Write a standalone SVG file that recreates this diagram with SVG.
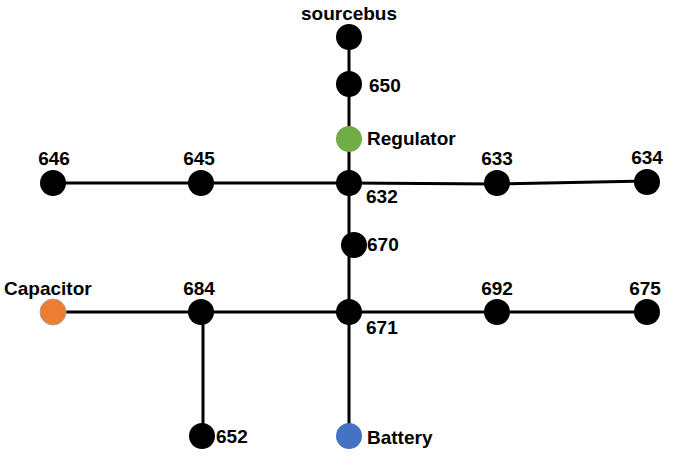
<svg xmlns="http://www.w3.org/2000/svg" width="676" height="458" viewBox="0 0 676 458">
<style>
.bus{fill:#000}
.lbl{font-family:"Liberation Sans",Arial,sans-serif;font-weight:bold;font-size:19px;fill:#000}
.mid{text-anchor:middle}
.wire{stroke:#000;stroke-width:3;fill:none}
</style>
<rect width="676" height="458" fill="#fff"/>
<g id="connectors">
<line class="wire" x1="349" y1="37" x2="349" y2="139"/>
<line class="wire" x1="349" y1="139" x2="349" y2="436"/>
<line class="wire" x1="53" y1="183" x2="349" y2="183"/>
<line class="wire" x1="349" y1="183" x2="497" y2="184"/>
<line class="wire" x1="497" y1="184" x2="647" y2="181"/>
<line class="wire" x1="53" y1="312" x2="647" y2="312"/>
<line class="wire" x1="203" y1="312" x2="203" y2="436"/>
</g>
<g id="sourcebus"><circle class="bus" cx="349" cy="37" r="13"/><text class="lbl mid" x="349" y="20">sourcebus</text></g>
<g id="n650"><circle class="bus" cx="349" cy="84" r="13"/><text class="lbl" x="369" y="92">650</text></g>
<g id="regulator"><circle cx="349" cy="139" r="13" fill="#70AD47"/><text class="lbl" x="367" y="145">Regulator</text></g>
<g id="n632"><circle class="bus" cx="349" cy="183" r="13"/><text class="lbl" x="366" y="203">632</text></g>
<g id="n646"><circle class="bus" cx="53" cy="183" r="13"/><text class="lbl mid" x="54" y="165">646</text></g>
<g id="n645"><circle class="bus" cx="201" cy="183" r="13"/><text class="lbl mid" x="199" y="165">645</text></g>
<g id="n633"><circle class="bus" cx="497" cy="183" r="13"/><text class="lbl mid" x="497" y="165">633</text></g>
<g id="n634"><circle class="bus" cx="647" cy="182" r="13"/><text class="lbl mid" x="647" y="164">634</text></g>
<g id="n670"><circle class="bus" cx="354" cy="245" r="13"/><text class="lbl" x="367" y="251">670</text></g>
<g id="n671"><circle class="bus" cx="349" cy="312" r="13"/><text class="lbl" x="366" y="334">671</text></g>
<g id="capacitor"><circle cx="53" cy="312" r="13" fill="#ED7D31" stroke="#A5A5A5" stroke-width="1"/><text class="lbl" x="4" y="295">Capacitor</text></g>
<g id="n684"><circle class="bus" cx="201" cy="312" r="13"/><text class="lbl mid" x="199" y="295">684</text></g>
<g id="n692"><circle class="bus" cx="497" cy="312" r="13"/><text class="lbl mid" x="497" y="295">692</text></g>
<g id="n675"><circle class="bus" cx="647" cy="312" r="13"/><text class="lbl mid" x="645" y="295">675</text></g>
<g id="n652"><circle class="bus" cx="202" cy="436" r="13"/><text class="lbl" x="216" y="443">652</text></g>
<g id="battery"><circle cx="349" cy="436" r="13" fill="#4472C4"/><text class="lbl" x="367" y="444">Battery</text></g>
</svg>
